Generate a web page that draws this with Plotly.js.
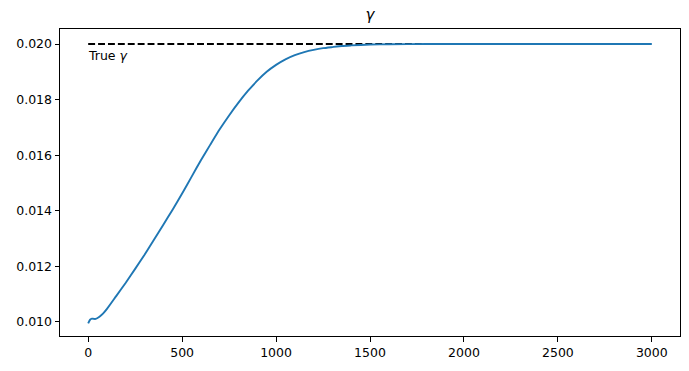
<!DOCTYPE html>
<html>
<head>
<meta charset="utf-8">
<script src="https://cdn.plot.ly/plotly-3.0.1.min.js"></script>
<style>html,body{margin:0;padding:0;background:#fff;}#chart{width:689px;height:371px;}</style>
</head>
<body>
<div id="chart"></div>
<script>
// Iteration number (x) and estimated gamma (y)
const iterations = [0, 10, 20, 30, 40, 60, 80, 100, 150, 200, 250, 300, 350, 400, 450, 500, 550, 600, 650, 700, 750, 800, 850, 900, 950, 1000, 1050, 1100, 1150, 1200, 1250, 1300, 1350, 1400, 1500, 1600, 1800, 2000, 2500, 3000];
const gammaEstimate = [0.00995, 0.01008, 0.01012, 0.01011, 0.01011, 0.01019, 0.01031, 0.01047, 0.01094, 0.01141, 0.01191, 0.01242, 0.01296, 0.01350, 0.01405, 0.01462, 0.01522, 0.01582, 0.01638, 0.01693, 0.01743, 0.01789, 0.01831, 0.01868, 0.01900, 0.01925, 0.01945, 0.01960, 0.01971, 0.01979, 0.01985, 0.01989, 0.01993, 0.01995, 0.01998, 0.01999, 0.02000, 0.02000, 0.02000, 0.02000];
const trueGammaX = [0, 3000];
const trueGammaY = [0.02, 0.02];
const yTicks = [0.010, 0.012, 0.014, 0.016, 0.018, 0.020];
const yTickLabels = ["0.010", "0.012", "0.014", "0.016", "0.018", "0.020"];
const xTicks = [0, 500, 1000, 1500, 2000, 2500, 3000];
const xTickLabels = ["0", "500", "1000", "1500", "2000", "2500", "3000"];

const font = "DejaVu Sans, sans-serif";
const traces = [
  {x: trueGammaX, y: trueGammaY, mode: "lines", line: {color: "#000000", width: 1.9, dash: "6.9px,3px"}, hoverinfo: "skip"},
  {x: iterations, y: gammaEstimate, mode: "lines", line: {color: "#1f77b4", width: 1.9, shape: "spline", smoothing: 0.5}}
];
const axisCommon = {showline: true, mirror: true, linecolor: "#000", linewidth: 1, ticks: "outside", ticklen: 4.5, tickwidth: 1, tickcolor: "#000", showgrid: false, zeroline: false, tickfont: {family: font, size: 12.5, color: "#000"}};
const layout = {
  width: 689, height: 371,
  margin: {l: 60, r: 9, t: 29, b: 35},
  paper_bgcolor: "#fff", plot_bgcolor: "#fff",
  showlegend: false,
  title: {text: "<i>γ</i>", font: {family: font, size: 15, color: "#000"}, x: 0.537, xanchor: "center", y: 0.96, yanchor: "middle"},
  xaxis: Object.assign({}, axisCommon, {range: [-150, 3150], tickvals: xTicks, ticktext: xTickLabels}),
  yaxis: Object.assign({}, axisCommon, {range: [0.009495, 0.02054], tickvals: yTicks, ticktext: yTickLabels}),
  annotations: [{x: 0, y: 0.0196, xref: "x", yref: "y", xanchor: "left", yanchor: "middle", xshift: -2, showarrow: false, text: "True <i>γ</i>", font: {family: font, size: 12.5, color: "#000"}}]
};
Plotly.newPlot("chart", traces, layout, {staticPlot: true, displayModeBar: false});
</script>
</body>
</html>
